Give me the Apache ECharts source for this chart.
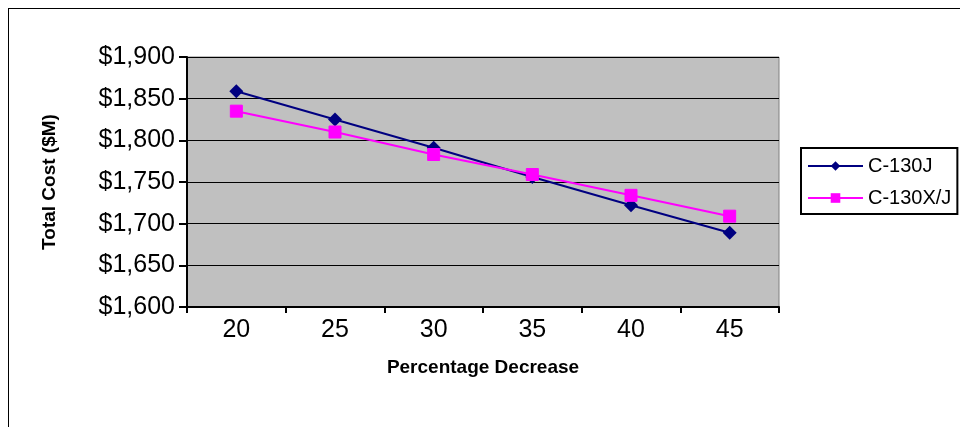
<!DOCTYPE html>
<html>
<head>
<meta charset="utf-8">
<script src="https://cdn.jsdelivr.net/npm/echarts@6/dist/echarts.min.js"></script>
<style>
  html, body { margin: 0; padding: 0; background: #fff; }
  #frame { position: absolute; left: 8px; top: 8px; width: 1000px; height: 440px; border: 1px solid #000; }
  #chart { width: 960px; height: 427px; }
</style>
</head>
<body>
<div id="frame"></div>
<div id="chart"></div>
<script>
var categories = ['20', '25', '30', '35', '40', '45'];
var c130j = [1859, 1825, 1791, 1756, 1722, 1689];
var c130xj = [1835, 1810, 1783, 1759, 1734, 1709];

var chart = echarts.init(document.getElementById('chart'));
var font = 'Arial, "Liberation Sans", sans-serif';

chart.setOption({
  animation: false,
  grid: {
    left: 187, top: 57, width: 592, height: 250,
    show: true, backgroundColor: '#c0c0c0', borderColor: '#808080', borderWidth: 1
  },
  legend: {
    orient: 'vertical', left: 801, top: 148,
    itemWidth: 55, itemHeight: 12, itemGap: 12,
    padding: [8, 6, 6, 6],
    borderColor: '#000', borderWidth: 2,
    textStyle: { fontFamily: font, fontSize: 20, color: '#000' },
    data: ['C-130J', 'C-130X/J']
  },
  xAxis: {
    type: 'category', data: categories, boundaryGap: true,
    name: 'Percentage Decrease', nameLocation: 'middle', nameGap: 51,
    nameTextStyle: { fontFamily: font, fontSize: 19, fontWeight: 'bold', color: '#000' },
    axisLine: { lineStyle: { color: '#000', width: 2 } },
    axisTick: { show: true, length: 6, inside: false, lineStyle: { color: '#000', width: 2 } },
    axisLabel: { fontFamily: font, fontSize: 25, color: '#000', margin: 11 }
  },
  yAxis: {
    type: 'value', min: 1600, max: 1900, interval: 50,
    name: 'Total Cost ($M)', nameLocation: 'middle', nameGap: 128, nameRotate: 90,
    nameTextStyle: { fontFamily: font, fontSize: 19, fontWeight: 'bold', color: '#000' },
    axisLine: { show: true, lineStyle: { color: '#000', width: 2 } },
    axisTick: { show: true, length: 8, lineStyle: { color: '#000', width: 2 } },
    splitLine: { lineStyle: { color: '#000', width: 1 } },
    axisLabel: {
      fontFamily: font, fontSize: 25, color: '#000', margin: 12,
      formatter: function (v) { return '$' + v.toLocaleString('en-US'); }
    }
  },
  series: [
    {
      name: 'C-130J', type: 'line', data: c130j,
      symbol: 'diamond', symbolSize: 14,
      lineStyle: { color: '#000080', width: 2 },
      itemStyle: { color: '#000080' }
    },
    {
      name: 'C-130X/J', type: 'line', data: c130xj,
      symbol: 'rect', symbolSize: 12,
      lineStyle: { color: '#ff00ff', width: 2 },
      itemStyle: { color: '#ff00ff', borderColor: '#ff00ff' }
    }
  ]
});
</script>
</body>
</html>
